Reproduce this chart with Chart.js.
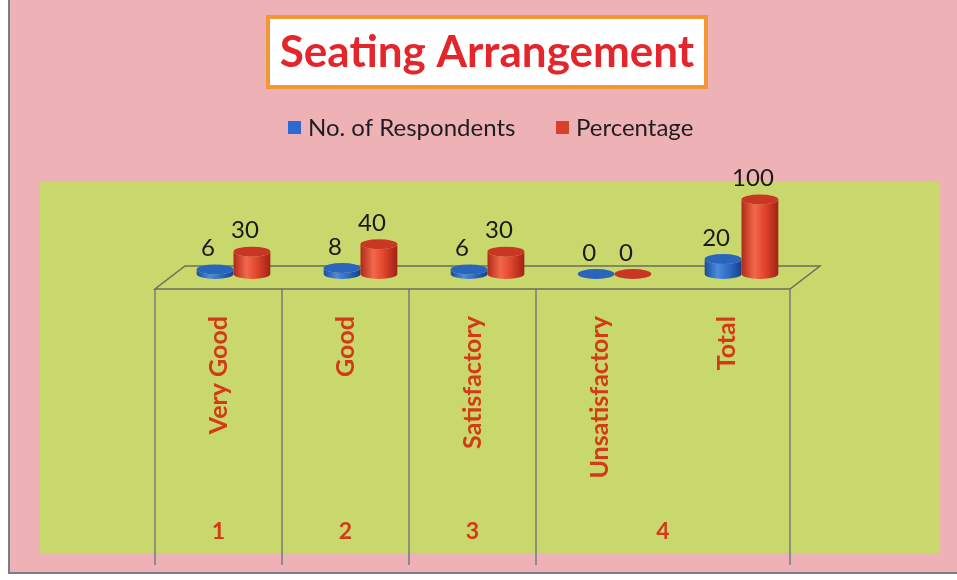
<!DOCTYPE html>
<html><head><meta charset="utf-8">
<script src="https://cdn.jsdelivr.net/npm/chart.js@4.4.1/dist/chart.umd.min.js"></script>
<style>html,body{margin:0;padding:0;background:#fff}canvas{display:block}</style>
</head><body>
<div style="width:957px;height:580px"><canvas id="c" width="957" height="580"></canvas></div>
<script>
const titleText = 'Seating Arrangement';
const seriesNames = ['No. of Respondents', 'Percentage'];
const categories = ['Very Good', 'Good', 'Satisfactory', 'Unsatisfactory', 'Total'];
const groupLabels = ['1', '2', '3', '4'];
const groupSpans = [1, 1, 1, 2];
const respondents = [6, 8, 6, 0, 20];
const percentage = [30, 40, 30, 0, 100];

const FONT = 'Lato, "Open Sans", sans-serif';
const RED_TXT = '#d33a18';
const DEPTH = {dx: 15, dy: -15};
const FLOOR = {dx: 30, dy: -23};
const RY = 5;

const palettes = [
  {side: ['#1b4c9a', '#4d8ade', '#2e6cc4', '#173f86'], top: '#2a64bc', key: '#2b6ad0'},
  {side: ['#b02a18', '#f2684c', '#df432c', '#a02214'], top: '#c93624', key: '#d9412c'}
];

function cylinder(ctx, cx, topY, baseY, w, pal) {
  const rx = w / 2;
  const g = ctx.createLinearGradient(cx - rx, 0, cx + rx, 0);
  g.addColorStop(0, pal.side[0]);
  g.addColorStop(0.35, pal.side[1]);
  g.addColorStop(0.65, pal.side[2]);
  g.addColorStop(1, pal.side[3]);
  ctx.beginPath();
  ctx.moveTo(cx - rx, topY);
  ctx.lineTo(cx - rx, baseY);
  ctx.ellipse(cx, baseY, rx, RY, 0, Math.PI, 0, true);
  ctx.lineTo(cx + rx, topY);
  ctx.ellipse(cx, topY, rx, RY, 0, 0, Math.PI, false);
  ctx.closePath();
  ctx.fillStyle = g;
  ctx.fill();
  ctx.beginPath();
  ctx.ellipse(cx, topY, rx, RY, 0, 0, Math.PI * 2);
  ctx.fillStyle = pal.top;
  ctx.fill();
}

const decor = {
  id: 'decor',
  beforeDraw(chart) {
    const ctx = chart.ctx;
    ctx.save();
    ctx.fillStyle = '#ffffff';
    ctx.fillRect(0, 0, 957, 580);
    ctx.fillStyle = '#eeb1b6';
    ctx.fillRect(10, 0, 947, 572);
    ctx.fillStyle = '#7d7d86';
    ctx.fillRect(8, 0, 2, 574);
    ctx.fillRect(8, 572, 949, 2);
    ctx.fillStyle = '#c9d86c';
    ctx.fillRect(40, 182, 900, 371);
    // title box
    ctx.fillStyle = '#ffffff';
    ctx.fillRect(268, 17, 438, 70);
    ctx.strokeStyle = '#f29636';
    ctx.lineWidth = 4;
    ctx.strokeRect(268, 17, 438, 70);
    ctx.fillStyle = '#e3262b';
    ctx.font = 'bold 44px ' + FONT;
    ctx.textAlign = 'center';
    ctx.textBaseline = 'middle';
    ctx.fillText(titleText, 487, 53);
    // legend
    ctx.font = '24px ' + FONT;
    ctx.textAlign = 'left';
    const lx = [288, 556];
    seriesNames.forEach((n, i) => {
      ctx.fillStyle = palettes[i].key;
      ctx.fillRect(lx[i], 121, 13, 13);
      ctx.fillStyle = '#1e1e1e';
      ctx.fillText(n, lx[i] + 20, 128);
    });
    // separators & group labels
    const xs = chart.scales.x;
    const area = chart.chartArea;
    const catW = (area.right - area.left) / categories.length;
    ctx.strokeStyle = '#7a7a7a';
    ctx.lineWidth = 1.5;
    let acc = 0;
    const bounds = [0];
    groupSpans.forEach(s => { acc += s; bounds.push(acc); });
    bounds.forEach(b => {
      const x = xs.getPixelForValue(Math.min(b, categories.length - 1)) + (b >= categories.length ? catW / 2 : -catW / 2);
      ctx.beginPath();
      ctx.moveTo(x, area.bottom);
      ctx.lineTo(x, 565);
      ctx.stroke();
    });
    ctx.fillStyle = RED_TXT;
    ctx.font = 'bold 23px ' + FONT;
    ctx.textAlign = 'center';
    groupLabels.forEach((g, i) => {
      const mid = (bounds[i] + bounds[i + 1]) / 2 - 0.5;
      ctx.fillText(g, xs.getPixelForValue(0) + mid * catW, 532);
    });
    ctx.restore();
  },
  beforeDatasetsDraw(chart) {
    const ctx = chart.ctx;
    const area = chart.chartArea;
    ctx.save();
    // floor
    ctx.strokeStyle = '#6b6e58';
    ctx.lineWidth = 1.5;
    ctx.beginPath();
    ctx.moveTo(area.left, area.bottom);
    ctx.lineTo(area.right, area.bottom);
    ctx.lineTo(area.right + FLOOR.dx, area.bottom + FLOOR.dy);
    ctx.lineTo(area.left + FLOOR.dx, area.bottom + FLOOR.dy);
    ctx.closePath();
    ctx.stroke();
    // cylinders
    const metas = [chart.getDatasetMeta(0), chart.getDatasetMeta(1)];
    for (let i = 0; i < categories.length; i++) {
      metas.forEach((m, d) => {
        const el = m.data[i];
        cylinder(ctx, el.x + DEPTH.dx, el.y + DEPTH.dy, el.base + DEPTH.dy, el.width, palettes[d]);
      });
    }
    // value labels
    ctx.fillStyle = '#1a1a1a';
    ctx.font = '24px ' + FONT;
    ctx.textAlign = 'center';
    ctx.textBaseline = 'middle';
    metas.forEach((m, d) => {
      const vals = chart.data.datasets[d].data;
      m.data.forEach((el, i) => {
        ctx.fillText(String(vals[i]), el.x + DEPTH.dx - 7, el.y + DEPTH.dy - RY - 16);
      });
    });
    ctx.restore();
    return false;
  }
};

new Chart(document.getElementById('c'), {
  type: 'bar',
  data: {
    labels: categories,
    datasets: [
      {label: seriesNames[0], data: respondents, backgroundColor: palettes[0].key},
      {label: seriesNames[1], data: percentage, backgroundColor: palettes[1].key}
    ]
  },
  options: {
    responsive: false,
    animation: false,
    events: [],
    categoryPercentage: 0.58,
    barPercentage: 1.0,
    layout: {padding: {left: 155, right: 167, top: 181, bottom: 0}},
    plugins: {legend: {display: false}, title: {display: false}, tooltip: {enabled: false}},
    scales: {
      y: {display: false, min: 0, max: 145},
      x: {
        grid: {display: false, drawTicks: false},
        border: {display: false},
        ticks: {
          autoSkip: false, maxRotation: 90, minRotation: 90, padding: 27,
          color: RED_TXT, font: {family: FONT, size: 25, weight: 'bold'}
        },
        afterFit(s) { s.height = 291; }
      }
    }
  },
  plugins: [decor]
});
</script>
</body></html>
